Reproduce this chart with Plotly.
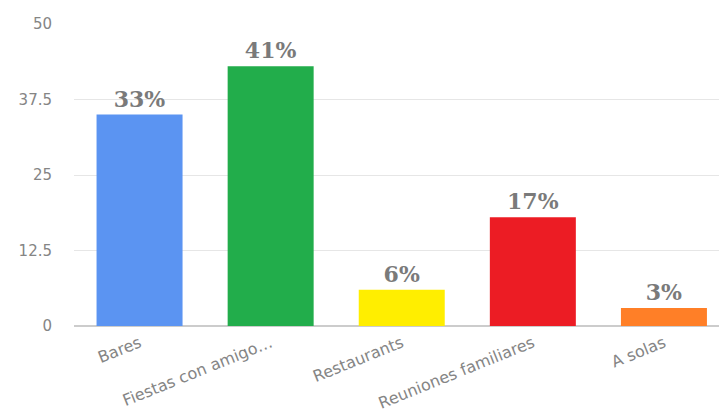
import plotly.graph_objects as go

# Respuestas por lugar
categorias = ["Bares", "Fiestas con amigo…", "Restaurants", "Reuniones familiares", "A solas"]
respuestas = [35, 43, 6, 18, 3]
colores = ["#5B94F2", "#22AD4B", "#FFEE00", "#EC1C24", "#FF7F27"]
ticks_y = [0, 12.5, 25, 37.5, 50]

total = sum(respuestas)
etiquetas = [f"{round(v * 100 / total)}%" for v in respuestas]

fig = go.Figure(
    go.Bar(
        x=list(range(len(categorias))),
        y=respuestas,
        marker=dict(color=colores, line=dict(width=0)),
        width=0.656,
        text=etiquetas,
        textposition="outside",
        textfont=dict(family="DejaVu Serif", size=22, color="#7A7A7A", weight="bold"),
        cliponaxis=False,
    )
)

fig.update_layout(
    width=719,
    height=416,
    margin=dict(l=74, r=0, t=24, b=90),
    paper_bgcolor="white",
    plot_bgcolor="white",
    showlegend=False,
    xaxis=dict(
        tickmode="array",
        tickvals=list(range(len(categorias))),
        ticktext=categorias,
        tickangle=-22,
        range=[-0.5, 4.42],
        showgrid=False,
        showline=False,
        zeroline=False,
        ticks="",
        ticklabelstandoff=4,
        tickfont=dict(family="DejaVu Sans", size=16, color="#858585"),
    ),
    yaxis=dict(
        range=[0, 50],
        tickmode="array",
        tickvals=ticks_y,
        ticktext=["0", "12.5", "25", "37.5", "50"],
        showgrid=True,
        gridcolor="#E6E6E6",
        gridwidth=1,
        zeroline=True,
        zerolinecolor="#CCCCCC",
        zerolinewidth=2,
        showline=False,
        ticks="",
        ticklabelstandoff=21,
        tickfont=dict(family="DejaVu Sans", size=15, color="#858585"),
    ),
)

fig.write_html("out.html")
